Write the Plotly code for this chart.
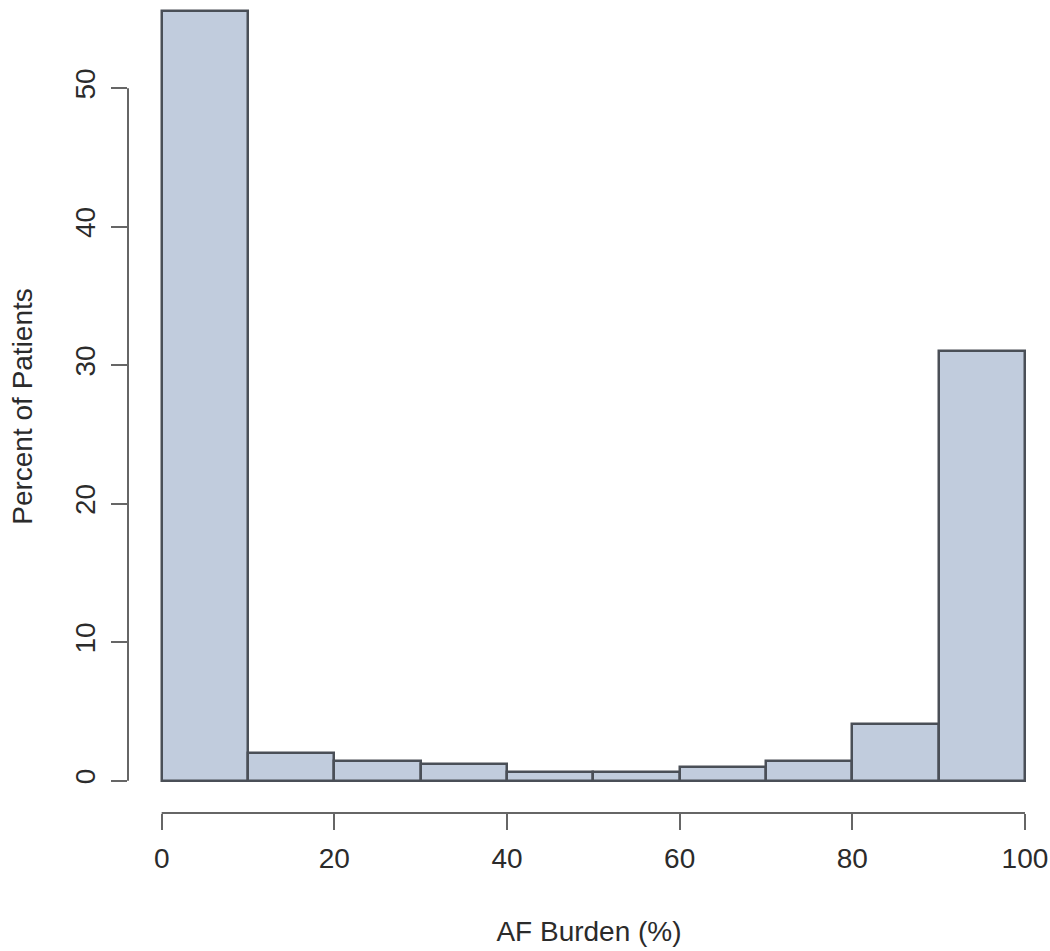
import plotly.graph_objects as go

# AF burden histogram, 10% bins
bin_left = [0, 10, 20, 30, 40, 50, 60, 70, 80, 90]
bin_width = 10
percent_patients = [55.6, 2.0, 1.4, 1.2, 0.6, 0.6, 1.0, 1.4, 4.1, 31.0]

x_ticks = [0, 20, 40, 60, 80, 100]
y_ticks = [0, 10, 20, 30, 40, 50]

centers = [b + bin_width / 2 for b in bin_left]

fig = go.Figure()
fig.add_trace(go.Bar(
    x=centers,
    y=percent_patients,
    width=bin_width,
    marker=dict(color='#c1ccdd', line=dict(color='#4a4f57', width=2.5)),
    showlegend=False))

font = dict(family='Liberation Sans, Arial, sans-serif', size=28, color='#2b2b2b')

fig.update_xaxes(
    range=[-3.9, 102.9], showgrid=False, zeroline=False, showline=False,
    tickvals=x_ticks, ticks='outside', ticklen=16, tickwidth=2, tickcolor='#666',
    tickfont=font, ticklabelstandoff=4,
    title=dict(text='AF Burden (%)', font=font, standoff=48))
fig.update_yaxes(
    range=[-2.33, 56.37], showgrid=False, zeroline=False, showline=False,
    tickvals=y_ticks, ticks='outside', ticklen=16, tickwidth=2, tickcolor='#666',
    tickangle=-90, tickfont=font, ticklabelstandoff=5,
    title=dict(text='Percent of Patients', font=font, standoff=28))

# R-style axis lines that only span the tick range
fig.add_shape(type='line', xref='x', yref='paper', x0=0, x1=100, y0=0, y1=0,
              line=dict(color='#666', width=2))
fig.add_shape(type='line', xref='paper', yref='y', x0=0, x1=0, y0=0, y1=50,
              line=dict(color='#666', width=2))

fig.update_layout(
    width=1050, height=951,
    margin=dict(l=128, r=0, t=0, b=138),
    plot_bgcolor='white', paper_bgcolor='white',
    bargap=0)

# drop the default page margin so the figure sits at the window's corner
fig.write_html('out.html',
               config={'displayModeBar': False},
               post_script="document.body.style.margin='0';"
                           "document.body.style.overflow='hidden';")
